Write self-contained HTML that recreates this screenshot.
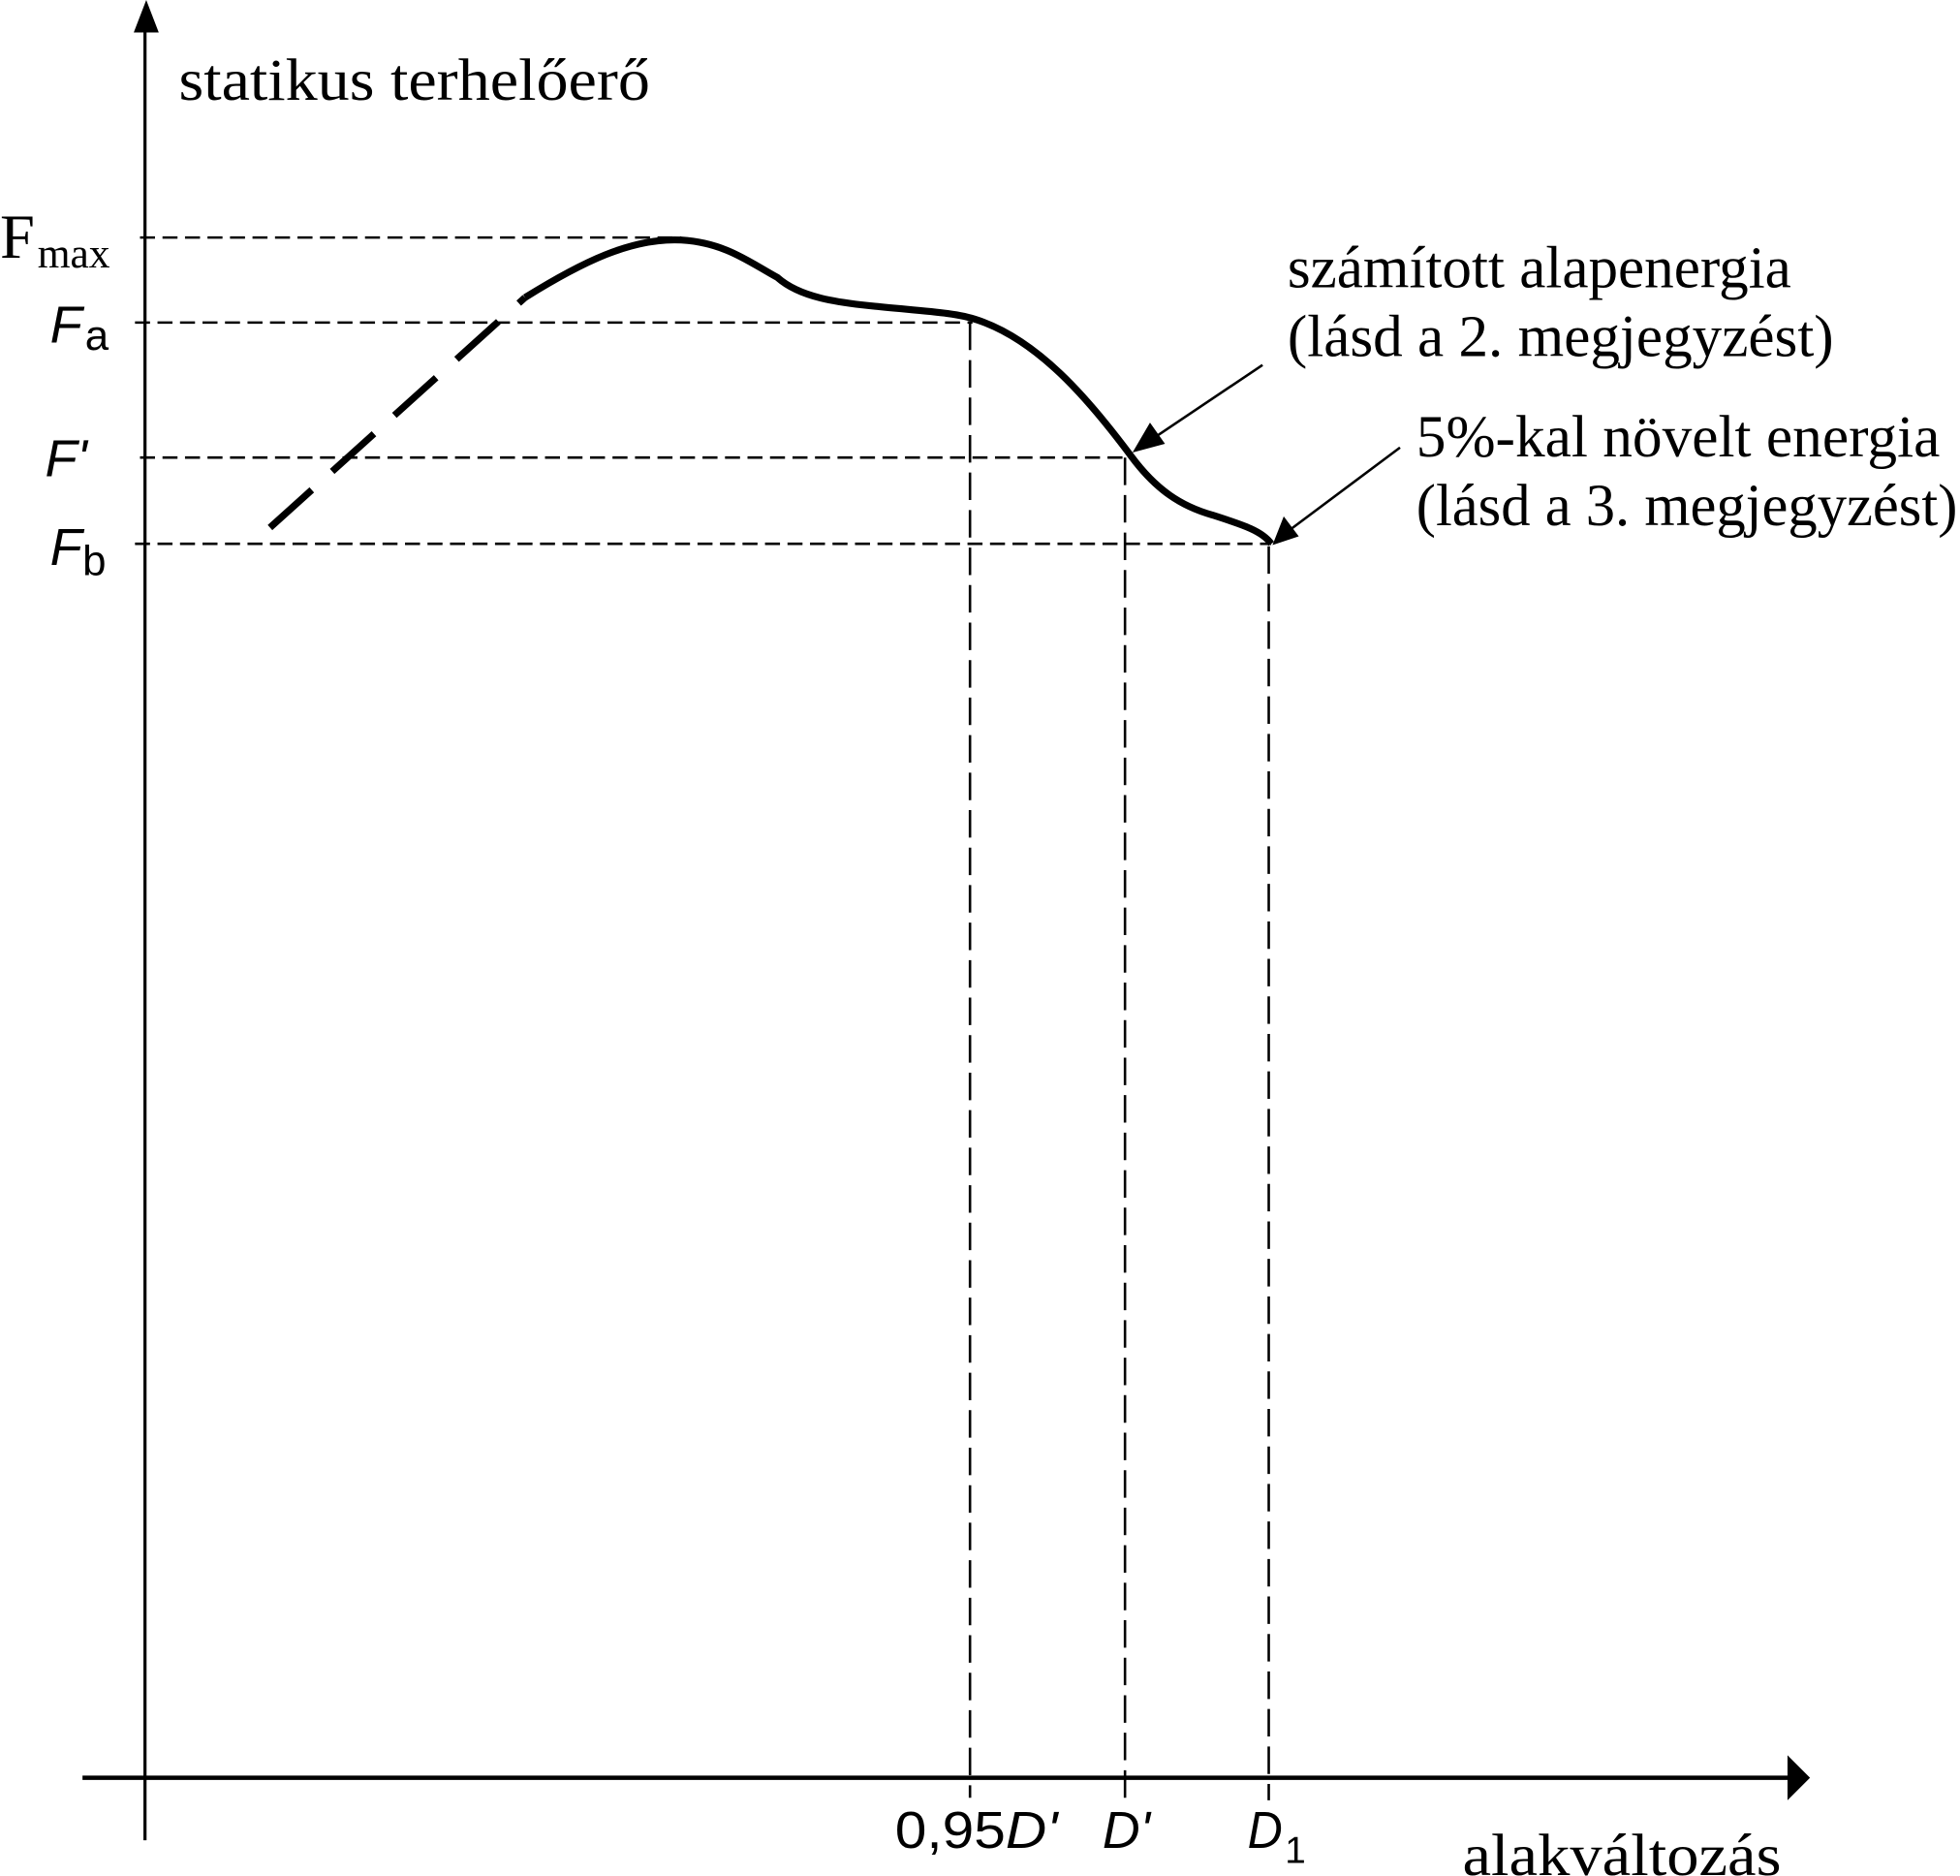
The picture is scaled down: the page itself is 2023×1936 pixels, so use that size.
<!DOCTYPE html>
<html><head><meta charset="utf-8"><style>html,body{margin:0;padding:0;background:#fff}svg{display:block}</style></head>
<body>
<svg width="2023" height="1936" viewBox="0 0 1568 1500.6" preserveAspectRatio="none" xmlns="http://www.w3.org/2000/svg">
<rect width="1568" height="1501" fill="#fff"/>
<g stroke="#000" fill="none">
<line x1="116" y1="20" x2="116" y2="1472" stroke-width="2.5"/>
<line x1="66" y1="1422" x2="1432" y2="1422" stroke-width="3.5"/>
<g stroke-width="2" stroke-dasharray="12,6">
<line x1="112" y1="190" x2="545" y2="190"/>
<line x1="108" y1="258" x2="778" y2="258"/>
<line x1="112" y1="366" x2="905" y2="366"/>
<line x1="108" y1="435" x2="1017" y2="435"/>
</g>
<g stroke-width="2" stroke-dasharray="22,8">
<line x1="776" y1="258" x2="776" y2="1438"/>
<line x1="900" y1="366" x2="900" y2="1438"/>
<line x1="1015" y1="437" x2="1015" y2="1440"/>
</g>
<path d="M216,422 L420,238" stroke-width="5.5" stroke-dasharray="45,22"/>
<path d="M420,238 C465,210 505,190 545,192 C580,194 600,210 622,222 C640,238 670,242 700,245 C740,249 765,250 782,256 C830,272 870,318 905,365 C925,392 945,405 970,412 C995,420 1010,425 1017,435" stroke-width="5.5"/>
<line x1="1010" y1="292" x2="925" y2="349" stroke-width="2"/>
<line x1="1120" y1="358" x2="1033" y2="423" stroke-width="2"/>
</g>
<g fill="#000">
<polygon points="117,0 107,26 127,26"/>
<polygon points="1448,1422 1430,1404 1430,1440"/>
<polygon points="906,362 920,338 932,355"/>
<polygon points="1018,436 1027,413 1039,429"/>
</g>
<g font-family="Liberation Serif, serif" font-size="48" fill="#000">
<text x="143" y="80" textLength="377" lengthAdjust="spacingAndGlyphs">statikus terhelőerő</text>
<text x="0" y="206" font-size="50">F</text>
<text x="30" y="214" font-size="34" textLength="58" lengthAdjust="spacingAndGlyphs">max</text>
<text x="1030" y="230" textLength="403" lengthAdjust="spacingAndGlyphs">számított alapenergia</text>
<text x="1030" y="285" textLength="437" lengthAdjust="spacingAndGlyphs">(lásd a 2. megjegyzést)</text>
<text x="1133" y="365" textLength="419" lengthAdjust="spacingAndGlyphs">5%-kal növelt energia</text>
<text x="1133" y="420" textLength="433" lengthAdjust="spacingAndGlyphs">(lásd a 3. megjegyzést)</text>
<text x="1170" y="1500" textLength="255" lengthAdjust="spacingAndGlyphs">alakváltozás</text>
</g>
<g font-family="Liberation Sans, sans-serif" font-size="42" fill="#000">
<text x="40" y="274" font-style="italic">F</text><text x="68" y="280" font-size="34">a</text>
<text x="36" y="381" font-style="italic">F'</text>
<text x="40" y="452" font-style="italic">F</text><text x="66" y="460" font-size="34">b</text>
<text x="716" y="1478" textLength="130" lengthAdjust="spacingAndGlyphs">0,95<tspan font-style="italic">D'</tspan></text>
<text x="882" y="1478" font-style="italic" textLength="38" lengthAdjust="spacingAndGlyphs">D'</text>
<text x="998" y="1478" font-style="italic" textLength="28" lengthAdjust="spacingAndGlyphs">D</text><text x="1028" y="1490" font-size="30">1</text>
</g>
</svg>
</body></html>
